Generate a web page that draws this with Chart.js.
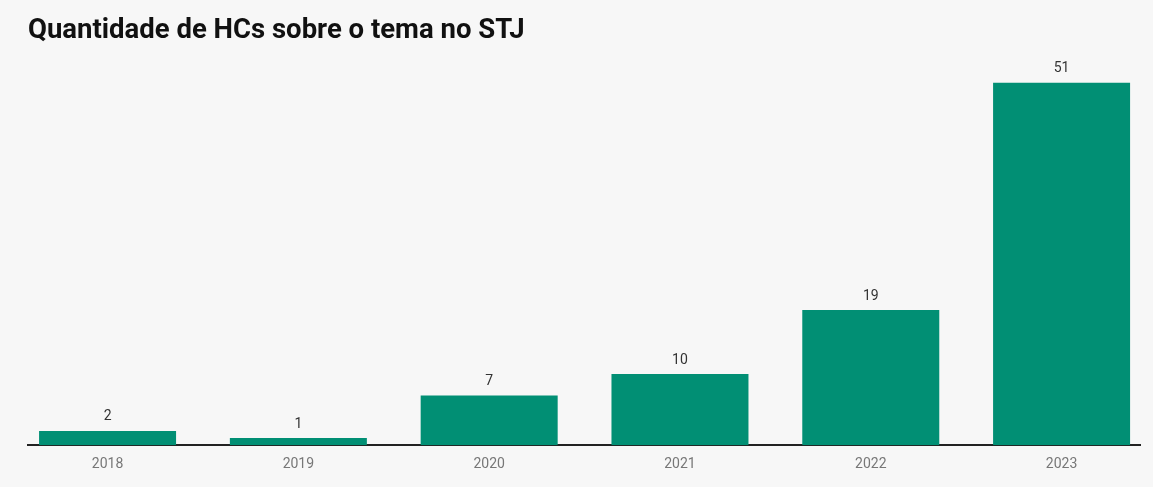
<!DOCTYPE html>
<html>
<head>
<meta charset="utf-8">
<script src="https://cdn.jsdelivr.net/npm/chart.js@4"></script>
<style>
  html, body { margin: 0; padding: 0; background: #f7f7f7; }
  #wrap { width: 1153px; height: 487px; }
</style>
</head>
<body>
<div id="wrap"><canvas id="chart"></canvas></div>
<script>
const years = [2018, 2019, 2020, 2021, 2022, 2023];
const hcCount = [2, 1, 7, 10, 19, 51];

// value labels above each bar
const barLabels = {
    id: 'barLabels',
    afterDatasetsDraw(chart) {
        const ctx = chart.ctx;
        const meta = chart.getDatasetMeta(0);
        ctx.save();
        ctx.font = '14px Roboto';
        ctx.fillStyle = '#333';
        ctx.textAlign = 'center';
        ctx.textBaseline = 'middle';
        meta.data.forEach(function (bar, i) {
            ctx.fillText(hcCount[i], bar.x, bar.y - 14);
        });
        ctx.restore();
    }
};

const ctx = document.getElementById('chart').getContext('2d');
new Chart(ctx, {
    type: 'bar',
    data: {
        datasets: [{
            data: years.map((y, i) => ({ x: y, y: hcCount[i] })),
            backgroundColor: '#018f74',
            barPercentage: 0.718,
            categoryPercentage: 1
        }]
    },
    options: {
        responsive: true,
        maintainAspectRatio: false,
        animation: false,
        layout: { padding: { left: 28, right: 13, top: 0, bottom: 11 } },
        plugins: {
            legend: { display: false },
            tooltip: { enabled: false },
            title: {
                display: true,
                text: 'Quantidade de HCs sobre o tema no STJ',
                align: 'start',
                color: '#111',
                font: { family: 'Roboto', size: 27.5, weight: 'bold' },
                padding: { top: 15, bottom: 34.5 }
            }
        },
        scales: {
            x: {
                type: 'linear',
                offset: false,
                min: 2017.583,
                max: 2023.411,
                grid: { display: false, offset: false },
                border: { display: true, color: '#222', width: 2 },
                afterBuildTicks(scale) {
                    scale.ticks = years.map(y => ({ value: y }));
                },
                ticks: {
                    padding: 3,
                    color: '#777',
                    font: { family: 'Roboto', size: 14 },
                    callback: v => String(v)
                }
            },
            y: {
                display: false,
                min: 0,
                max: 51
            }
        }
    },
    plugins: [barLabels]
});
</script>
</body>
</html>
